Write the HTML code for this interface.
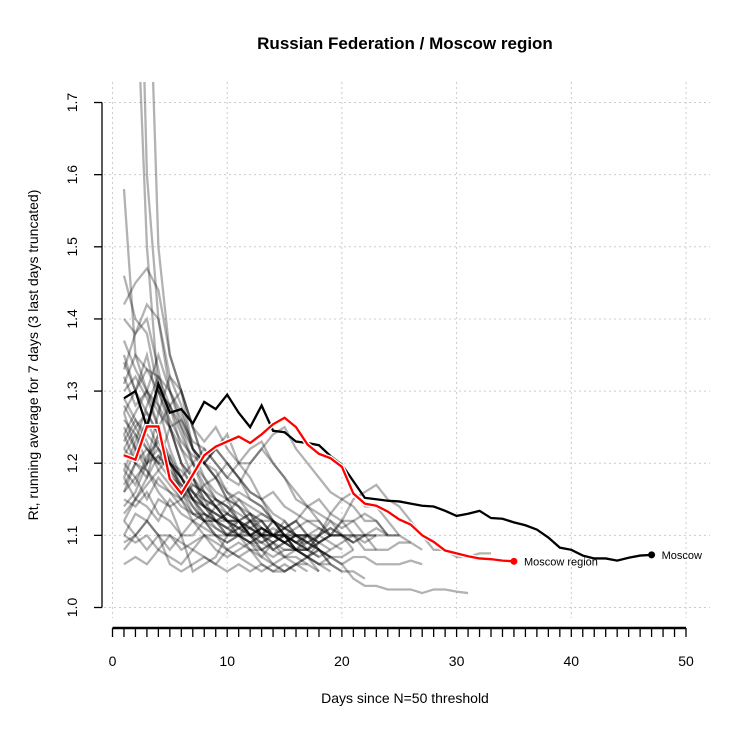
<!DOCTYPE html>
<html><head><meta charset="utf-8"><style>
body{margin:0;background:#fff}
svg{display:block;font-family:"Liberation Sans",sans-serif}
</style></head><body>
<svg id="chart" width="750" height="750" viewBox="0 0 750 750">
<text x="405" y="49" text-anchor="middle" font-size="17" font-weight="bold">Russian Federation / Moscow region</text>
<text transform="translate(38,355) rotate(-90)" text-anchor="middle" font-size="14">Rt, running average for 7 days (3 last days truncated)</text>
<text x="405" y="703" text-anchor="middle" font-size="14">Days since N=50 threshold</text>
<g id="grid"></g>
<g id="axes"></g>
<defs><clipPath id="clip"><rect x="102" y="82" width="620" height="540"/></clipPath></defs>
<g id="plot" clip-path="url(#clip)"></g>
</svg>
<script>
const yTicks=[1.0,1.1,1.2,1.3,1.4,1.5,1.6,1.7];
const xTicks=[0,10,20,30,40,50];
const moscow=[1.29,1.30,1.25,1.31,1.27,1.275,1.255,1.285,1.275,1.295,1.27,1.25,1.28,1.245,1.243,1.23,1.228,1.225,1.21,1.198,1.175,1.152,1.15,1.148,1.147,1.144,1.141,1.14,1.134,1.127,1.13,1.134,1.124,1.123,1.118,1.114,1.108,1.097,1.083,1.08,1.072,1.068,1.068,1.065,1.069,1.072,1.073];
const moscowRegion=[1.211,1.205,1.251,1.251,1.178,1.158,1.184,1.211,1.223,1.23,1.237,1.228,1.24,1.254,1.263,1.25,1.226,1.213,1.207,1.195,1.158,1.144,1.141,1.133,1.122,1.115,1.1,1.091,1.079,1.075,1.071,1.068,1.067,1.065,1.064];
const others=[
[2.5,1.9,1.5,1.3,1.25,1.2,1.18,1.15,1.14,1.12,1.12,1.11,1.1,1.1,1.09,1.1,1.1,1.09,1.1,1.1],
[3.0,2.2,1.6,1.4,1.3,1.25,1.2,1.18,1.16,1.15,1.14,1.12,1.1,1.12,1.11,1.1,1.09,1.1,1.11,1.1,1.09],
[2.0,2.6,2.0,1.5,1.35,1.3,1.22,1.2,1.18,1.15,1.14,1.13,1.12,1.1,1.11,1.12,1.1],
[1.58,1.35,1.3,1.25,1.2,1.18,1.15,1.12,1.12,1.1,1.1,1.09,1.08,1.09,1.1,1.08],
[1.46,1.4,1.38,1.3,1.28,1.22,1.2,1.17,1.18,1.15,1.12,1.13,1.11,1.1,1.12,1.1,1.09,1.08],
[1.42,1.45,1.47,1.44,1.35,1.3,1.25,1.2,1.18,1.16,1.15,1.13,1.12,1.12,1.11,1.1,1.1,1.11,1.1],
[1.4,1.38,1.42,1.4,1.32,1.28,1.22,1.2,1.19,1.16,1.14,1.12,1.12,1.1,1.1,1.09,1.1],
[1.35,1.3,1.33,1.32,1.28,1.25,1.22,1.2,1.22,1.2,1.18,1.16,1.15,1.13,1.12,1.1,1.1,1.08,1.07],
[1.32,1.28,1.3,1.27,1.25,1.26,1.23,1.22,1.2,1.18,1.17,1.2,1.22,1.2,1.18,1.16,1.14,1.15,1.13,1.12,1.12,1.1,1.1],
[1.3,1.32,1.29,1.25,1.28,1.3,1.25,1.23,1.25,1.22,1.2,1.2,1.22,1.24,1.25,1.22,1.2,1.18,1.16,1.15,1.14,1.12,1.12,1.1],
[1.28,1.25,1.22,1.2,1.2,1.18,1.2,1.22,1.2,1.18,1.2,1.22,1.23,1.2,1.18,1.15,1.14,1.12,1.1,1.1,1.08],
[1.25,1.22,1.2,1.24,1.2,1.18,1.15,1.17,1.15,1.14,1.12,1.1,1.11,1.1,1.09,1.08,1.09,1.1,1.11,1.1,1.09,1.1,1.1],
[1.22,1.2,1.19,1.17,1.16,1.15,1.18,1.16,1.14,1.13,1.12,1.13,1.1,1.1,1.11,1.12,1.1,1.09,1.1,1.12,1.1,1.09,1.1,1.1],
[1.2,1.18,1.15,1.18,1.16,1.14,1.13,1.12,1.14,1.12,1.11,1.1,1.11,1.1,1.09,1.08,1.07,1.08,1.06,1.05,1.05,1.04],
[1.18,1.15,1.14,1.12,1.15,1.13,1.12,1.1,1.1,1.09,1.1,1.08,1.08,1.09,1.07,1.08,1.1,1.08,1.07,1.06,1.04,1.03,1.03,1.025,1.025,1.025,1.02,1.025,1.025,1.022,1.02],
[1.15,1.14,1.16,1.13,1.12,1.1,1.1,1.12,1.1,1.09,1.1,1.1,1.08,1.07,1.08,1.08,1.07,1.06,1.06,1.05],
[1.12,1.1,1.12,1.1,1.1,1.08,1.09,1.1,1.08,1.07,1.08,1.09,1.07,1.06,1.05,1.06,1.06,1.05],
[1.1,1.09,1.1,1.08,1.07,1.06,1.08,1.07,1.06,1.05,1.06,1.05,1.06,1.05,1.06,1.05],
[1.08,1.1,1.08,1.1,1.06,1.05,1.06,1.07,1.06,1.08,1.07,1.06,1.05,1.06,1.07,1.06,1.05],
[1.06,1.07,1.06,1.08,1.1,1.09,1.08,1.1,1.09,1.08,1.07,1.08,1.07,1.09,1.1,1.08,1.07,1.06,1.07,1.06,1.07,1.07,1.06,1.06,1.06,1.065,1.06],
[1.14,1.16,1.2,1.22,1.18,1.15,1.12,1.11,1.1,1.1,1.12,1.1,1.11,1.1,1.09,1.1,1.08,1.07,1.08,1.09,1.1,1.08,1.08,1.08,1.09,1.09],
[1.24,1.27,1.3,1.28,1.25,1.2,1.18,1.15,1.12,1.12,1.1,1.09,1.1,1.08,1.09,1.1,1.1,1.09,1.08],
[1.27,1.3,1.35,1.28,1.22,1.18,1.15,1.13,1.12,1.11,1.12,1.1,1.09,1.1,1.1,1.11,1.12,1.11,1.1,1.1,1.1,1.1],
[1.33,1.38,1.4,1.33,1.25,1.2,1.16,1.14,1.13,1.12,1.1,1.11,1.1,1.1,1.09,1.1],
[1.37,1.33,1.3,1.35,1.3,1.27,1.22,1.2,1.18,1.2,1.18,1.15,1.14,1.12,1.1,1.1,1.09,1.08,1.07,1.07,1.08],
[1.16,1.2,1.25,1.3,1.28,1.24,1.2,1.16,1.14,1.15,1.16,1.15,1.14,1.12,1.1,1.09,1.08,1.1,1.12,1.1,1.1,1.1,1.08],
[1.19,1.23,1.28,1.32,1.3,1.26,1.22,1.18,1.15,1.14,1.12,1.1,1.08,1.06,1.05,1.06,1.07,1.06,1.05],
[1.13,1.15,1.18,1.24,1.2,1.17,1.14,1.12,1.1,1.08,1.09,1.08,1.06,1.05,1.05,1.06,1.07,1.05],
[1.26,1.24,1.2,1.27,1.32,1.3,1.25,1.2,1.22,1.24,1.2,1.18,1.15,1.12,1.1,1.08,1.08,1.1,1.13,1.15,1.16,1.14,1.14,1.12,1.1,1.09,1.08],
[1.31,1.35,1.33,1.3,1.26,1.23,1.21,1.2,1.22,1.2,1.18,1.16,1.15,1.16,1.14,1.13,1.12,1.12,1.1,1.12,1.15,1.16,1.17,1.15,1.14,1.12,1.1,1.08,1.08,1.07,1.07,1.075,1.075],
[1.22,1.25,1.27,1.24,1.21,1.16,1.14,1.12,1.12,1.13,1.15,1.14,1.13,1.12,1.11,1.12,1.14,1.13,1.12,1.11,1.12,1.13,1.12,1.1,1.1],
[1.09,1.1,1.12,1.1,1.08,1.1,1.12,1.13,1.12,1.1,1.1,1.09,1.1,1.08,1.09,1.08,1.07,1.09,1.1,1.1,1.09,1.1,1.11,1.1,1.1],
[1.17,1.2,1.22,1.2,1.25,1.22,1.18,1.14,1.12,1.13,1.12,1.1,1.1,1.12,1.1,1.1,1.09,1.08,1.07],
[1.1,1.13,1.12,1.15,1.14,1.1,1.05,1.06,1.07,1.1,1.11,1.12,1.1,1.09,1.1,1.08,1.07,1.08,1.06],
[1.21,1.24,1.22,1.2,1.18,1.17,1.15,1.14,1.13,1.12,1.12,1.11,1.1,1.1,1.1,1.09,1.09],
[1.18,1.22,1.26,1.22,1.2,1.16,1.15,1.14,1.15,1.13,1.12,1.1,1.09,1.1,1.1,1.08,1.08,1.07],
[1.24,1.2,1.18,1.21,1.19,1.17,1.16,1.15,1.14,1.12,1.12,1.11,1.12,1.1,1.11,1.1],
[1.29,1.26,1.24,1.22,1.2,1.19,1.17,1.16,1.15,1.14,1.13,1.12,1.11,1.1,1.1,1.09,1.08,1.09,1.1],
[1.16,1.18,1.2,1.21,1.19,1.16,1.13,1.12,1.11,1.1,1.11,1.12,1.1,1.09,1.08,1.08],
[1.12,1.15,1.17,1.19,1.21,1.18,1.15,1.13,1.11,1.1,1.1,1.09,1.09,1.08,1.07,1.07,1.06],
[1.34,1.3,1.27,1.24,1.2,1.18,1.16,1.14,1.13,1.12,1.11,1.11,1.1,1.1,1.09],
[1.23,1.26,1.23,1.19,1.17,1.15,1.13,1.13,1.12,1.11,1.1,1.1,1.11,1.1,1.09,1.08,1.08,1.09],
[1.19,1.17,1.21,1.23,1.2,1.18,1.16,1.14,1.12,1.11,1.1,1.12,1.13,1.12,1.1,1.09,1.1,1.1,1.09,1.08],
[1.27,1.22,1.19,1.16,1.14,1.15,1.17,1.16,1.14,1.12,1.11,1.1,1.1,1.11,1.1,1.09,1.08]
];
const X0=112.5, XS=11.47, Y0=607.5, YS=721.4;
const sx=d=>X0+d*XS, sy=v=>Y0-(v-1)*YS;
const NS='http://www.w3.org/2000/svg';
function mk(tag,attrs,parent){const e=document.createElementNS(NS,tag);for(const k in attrs)e.setAttribute(k,attrs[k]);parent.appendChild(e);return e;}
const grid=document.getElementById('grid'),axes=document.getElementById('axes'),plot=document.getElementById('plot');
yTicks.forEach(v=>{
 const l=mk('line',{x1:104,x2:710,y1:sy(v),y2:sy(v),stroke:'#ccc','stroke-dasharray':'2,3'},grid);
 
 
 const t=mk('line',{x1:94,x2:102,y1:sy(v),y2:sy(v),stroke:'#000','stroke-width':1.3},axes);
 
 
 const tx=mk('text',{transform:`translate(77,${sy(v)}) rotate(-90)`,'text-anchor':'middle','font-size':14},axes);
 tx.textContent=v.toFixed(1);
 
 
});
mk('line',{x1:102,x2:102,y1:sy(1.7),y2:sy(1.0),stroke:'#000','stroke-width':1.3},axes);
xTicks.forEach(d=>{
 const l=mk('line',{x1:sx(d),x2:sx(d),y1:82,y2:618,stroke:'#ccc','stroke-dasharray':'2,3'},grid);
 
 
 const tx=mk('text',{x:sx(d),y:666,'text-anchor':'middle','font-size':14},axes);
 tx.textContent=d;
 
 
});
mk('line',{x1:sx(0),x2:sx(50),y1:628,y2:628,stroke:'#000','stroke-width':2.5},axes);
for(let d=0;d<=50;d++){
 const t=mk('line',{x1:sx(d),x2:sx(d),y1:628,y2:637,stroke:'#000','stroke-width':1.3},axes);
 
 
}
const pts=a=>a.map((v,i)=>sx(i+1)+','+sy(v)).join(' ');
others.forEach(a=>{
 const p=mk('polyline',{points:pts(a),fill:'none',stroke:'rgba(0,0,0,0.3)','stroke-width':2.3},plot);
 
 
});
const m=mk('polyline',{points:pts(moscow),fill:'none',stroke:'#000','stroke-width':2.3},plot);


const rw=mk('polyline',{points:pts(moscowRegion),fill:'none',stroke:'#fff','stroke-width':5},plot);


const r=mk('polyline',{points:pts(moscowRegion),fill:'none',stroke:'#f00','stroke-width':2.3},plot);


const lm=moscow.length,lr=moscowRegion.length;
const c1=mk('circle',{cx:sx(lm),cy:sy(moscow[lm-1]),r:3.5,fill:'#000'},plot);


const c2=mk('circle',{cx:sx(lr),cy:sy(moscowRegion[lr-1]),r:3.5,fill:'#f00'},plot);


const t1=mk('text',{x:sx(lm)+10,y:sy(moscow[lm-1])+4,'font-size':11},plot);
t1.textContent='Moscow';


const t2=mk('text',{x:sx(lr)+10,y:sy(moscowRegion[lr-1])+4,'font-size':11},plot);
t2.textContent='Moscow region';


</script>
</body></html>
